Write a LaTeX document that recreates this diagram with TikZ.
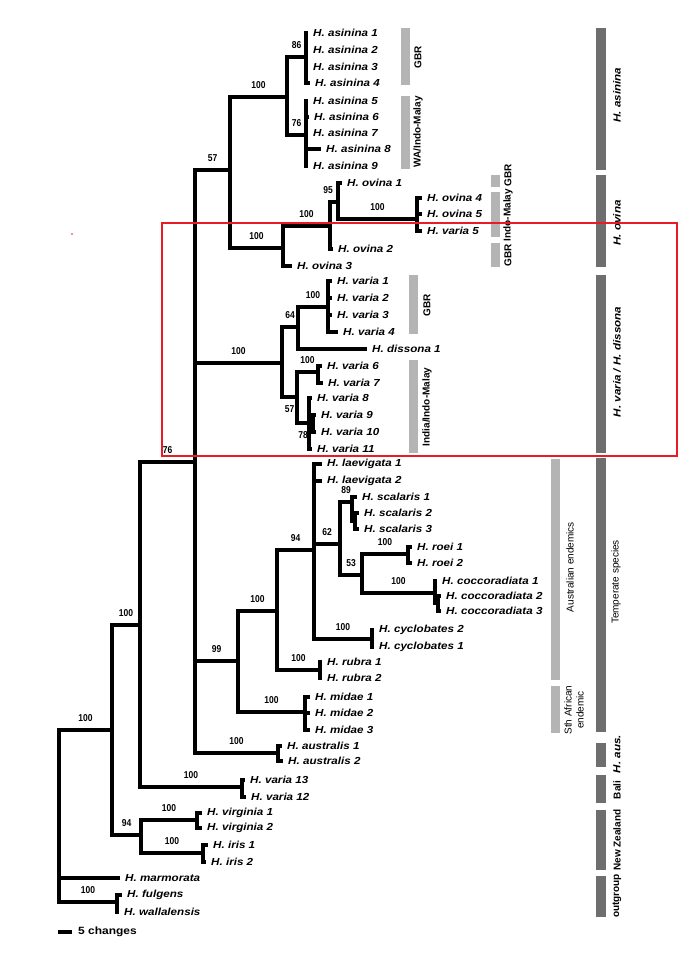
\documentclass[tikz,border=0pt]{standalone}
\usepackage{fontspec}
\setmainfont{Liberation Sans}
\newfontfamily\tipfont[FakeStretch=1.14]{Liberation Sans}
\newfontfamily\bsfont[FakeStretch=0.85]{Liberation Sans}
\definecolor{barlight}{RGB}{180,180,180}
\definecolor{bardark}{RGB}{110,110,110}
\definecolor{boxred}{RGB}{232,28,36}
\begin{document}
\begin{tikzpicture}[x=1pt, y=-1pt,
		branchline/.style={line width=4.6pt, line cap=rect, line join=miter},
		tiplabel/.style={anchor=west, inner sep=0pt, xshift=7pt, font=\tipfont\fontsize{10.2}{12}\selectfont\bfseries\itshape},
		support/.style={inner sep=0pt, font=\bsfont\fontsize{10}{12}\selectfont\bfseries},
		regionlabel/.style={rotate=90, inner sep=0pt, font=\fontsize{10}{12}\selectfont\bfseries},
		plainlabel/.style={rotate=90, inner sep=0pt, align=center, font=\fontsize{10}{12}\selectfont},
		taxonlabel/.style={rotate=90, inner sep=0pt, font=\tipfont\fontsize{10.2}{12}\selectfont\bfseries\itshape}]
		\useasboundingbox (0,0) rectangle (689,960);
		
		% --- 1. Internal nodes ---
		\foreach \n/\x/\y in {root/59/730, nA/112/730, nB/140/625, n76/195/462,
			n57/230/170, nAsin/287/97, n86/306/57, n76b/306/135,
			nOv/283/248, nOv100/330/226, n95/338/202, nOv45/417/219,
			nVD/282/363, n64/298/327, nVa14/328/307, n57b/297/397,
			nVa67/318/372, n78/309/423, nVa910/313/422,
			n99/238/661, n100t/277/611, n94t/314/550, n62/340/544,
			n89/352/502, nSc23/355/521, n53/362/575, nRoei/408/554,
			nCoc/435/593, nCoc23/438/603, nCyc/372/639, nRub/320/670,
			nMid/305/712, nAus/278/753, nV1213/242/787,
			n94/141/835, nVir/197/820, nIris/203/853, nFW/117/902}
		\coordinate (\n) at (\x,\y);
		
		% --- 2. Tips and their names ---
		\foreach \n/\x/\y/\t in {as1/306/33/H. asinina 1, as2/306/50/H. asinina 2,
			as3/306/67/H. asinina 3, as4/308/83/H. asinina 4, as5/306/101/H. asinina 5,
			as6/307/117/H. asinina 6, as7/306/133/H. asinina 7, as8/319/149/H. asinina 8,
			as9/306/166/H. asinina 9,
			ov1/340/183/H. ovina 1, ov4/420/198/H. ovina 4, ov5/420/214/H. ovina 5,
			va5/420/231/H. varia 5, ov2/331/249/H. ovina 2, ov3/290/266/H. ovina 3,
			va1/330/281/H. varia 1, va2/330/298/H. varia 2, va3/330/315/H. varia 3,
			va4/336/332/H. varia 4, dis1/365/349/H. dissona 1, va6/320/366/H. varia 6,
			va7/321/383/H. varia 7, va8/310/398/H. varia 8, va9/314/415/H. varia 9,
			va10/314/432/H. varia 10, va11/310/449/H. varia 11,
			lae1/320/464/H. laevigata 1, lae2/320/481/H. laevigata 2,
			sc1/355/497/H. scalaris 1, sc2/357/513/H. scalaris 2, sc3/357/529/H. scalaris 3,
			ro1/410/547/H. roei 1, ro2/410/563/H. roei 2,
			co1/435/581/H. coccoradiata 1, co2/439/596/H. coccoradiata 2,
			co3/439/611/H. coccoradiata 3,
			cy2/372/630/H. cyclobates 2, cy1/372/647/H. cyclobates 1,
			ru1/320/662/H. rubra 1, ru2/320/678/H. rubra 2,
			mi1/308/697/H. midae 1, mi2/308/713/H. midae 2, mi3/308/730/H. midae 3,
			au1/280/746/H. australis 1, au2/281/761/H. australis 2,
			v13/243/780/H. varia 13, v12/244/797/H. varia 12,
			vi1/200/813/H. virginia 1, vi2/200/828/H. virginia 2,
			ir1/206/845/H. iris 1, ir2/204/862/H. iris 2,
			marm/118/878/H. marmorata, fu/120/895/H. fulgens, wa/117/912/H. wallalensis}
		{
			\coordinate (\n) at (\x,\y);
			\node[tiplabel] (l-\n) at (\n) {\t};
		}
		
		% --- 3. Branches with bootstrap values ---
		\foreach \p/\c/\s in {root/nA/100, root/nFW/100, nA/nB/100, nA/n94/94,
			nB/n76/76, nB/nV1213/100, n76/n57/57, n76/nVD/100, n76/n99/99, n76/nAus/100,
			n57/nAsin/100, n57/nOv/100, nAsin/n86/86, nAsin/n76b/76,
			nOv/nOv100/100, n95/nOv45/100, nVD/n64/64, n64/nVa14/100, n57b/nVa67/100,
			n99/n100t/100, n99/nMid/100, n100t/n94t/94, n100t/nRub/100,
			n94t/n62/62, n94t/nCyc/100, n62/n89/89, n62/n53/53,
			n53/nRoei/100, n53/nCoc/100, n94/nVir/100, n94/nIris/100}
		\draw[branchline] (\p) |- node[support, above=6pt, pos=.75] (s-\c) {\s} (\c);
		
		\foreach \p/\c/\s in {nVD/n57b/57, n57b/n78/78}
		\draw[branchline] (\p) |- node[support, below=6pt, pos=.75] (s-\c) {\s} (\c);
		
		\draw[branchline] (nOv100) |- node[support, above=6pt, pos=.75, xshift=-6pt] (s-n95) {95} (n95);
		
		% --- 4. Branches without values ---
		\foreach \p/\c in {root/marm, n86/as1, n86/as2, n86/as3, n86/as4,
			n76b/as5, n76b/as6, n76b/as7, n76b/as8, n76b/as9,
			nOv/ov3, nOv100/ov2, n95/ov1, nOv45/ov4, nOv45/ov5, nOv45/va5,
			n64/dis1, nVa14/va1, nVa14/va2, nVa14/va3, nVa14/va4,
			nVa67/va6, nVa67/va7, n78/va8, n78/nVa910, n78/va11,
			nVa910/va9, nVa910/va10,
			n94t/lae1, n94t/lae2, n89/sc1, n89/nSc23, nSc23/sc2, nSc23/sc3,
			nRoei/ro1, nRoei/ro2, nCoc/co1, nCoc/nCoc23, nCoc23/co2, nCoc23/co3,
			nCyc/cy2, nCyc/cy1, nRub/ru1, nRub/ru2,
			nMid/mi1, nMid/mi2, nMid/mi3, nAus/au1, nAus/au2,
			nV1213/v13, nV1213/v12, nVir/vi1, nVir/vi2, nIris/ir1, nIris/ir2,
			nFW/fu, nFW/wa}
		\draw[branchline] (\p) |- (\c);
		
		% --- 5. Region bars (light) ---
		\foreach \x/\ya/\yb in {401/28/85, 401/96/169, 491/175/187, 491/192/237,
			491/243/267, 409/275/334, 409/360/453, 551/459/680, 551/686/733}
		\fill[barlight] (\x,\ya) rectangle (\x+9,\yb);
		
		\node[regionlabel] (r-gbr1) at (418,57) {GBR};
		\node[regionlabel] (r-wa) at (418,132) {WA/Indo-Malay};
		\node[regionlabel] (r-gbr2) at (508,175) {GBR};
		\node[regionlabel] (r-im) at (508,215) {Indo-Malay};
		\node[regionlabel] (r-gbr3) at (508,255) {GBR};
		\node[regionlabel] (r-gbr4) at (427,305) {GBR};
		\node[regionlabel] (r-india) at (427,407) {India/Indo-Malay};
		\node[plainlabel] (r-aus) at (570,567) {Australian endemics};
		\node[plainlabel] (r-sth) at (574,710) {Sth African\\endemic};
		
		% --- 6. Taxon bars (dark) ---
		\foreach \ya/\yb in {28/170, 175/267, 275/453, 458/732, 743/767, 775/803,
			810/870, 876/917}
		\fill[bardark] (596,\ya) rectangle (606,\yb);
		
		\node[taxonlabel] (g-asin) at (617,95) {H. asinina};
		\node[taxonlabel] (g-ov) at (617,223) {H. ovina};
		\node[taxonlabel] (g-vd) at (617,362) {H. varia / H. dissona};
		\node[plainlabel] (g-temp) at (616,582) {Temperate species};
		\node[taxonlabel] (g-aus) at (617,754) {H. aus.};
		\node[regionlabel] (g-bali) at (617,790) {Bali};
		\node[regionlabel] (g-nz) at (617,840) {New Zealand};
		\node[regionlabel] (g-out) at (617,896) {outgroup};
		
		% --- 7. Highlight box and scale ---
		\draw[boxred, line width=1.5pt] (162,223) rectangle (677,456);
		\fill[boxred] (72,234) circle (0.8pt);
		
		\coordinate (sbA) at (58,932);
		\coordinate (sbB) at (72,932);
		\draw[line width=4.6pt] (sbA) -- (sbB);
		\node[anchor=west, inner sep=0pt, font=\tipfont\fontsize{10.5}{12}\selectfont\bfseries] (scale) at (78,932) {5 changes};
	\end{tikzpicture}
\end{document}
